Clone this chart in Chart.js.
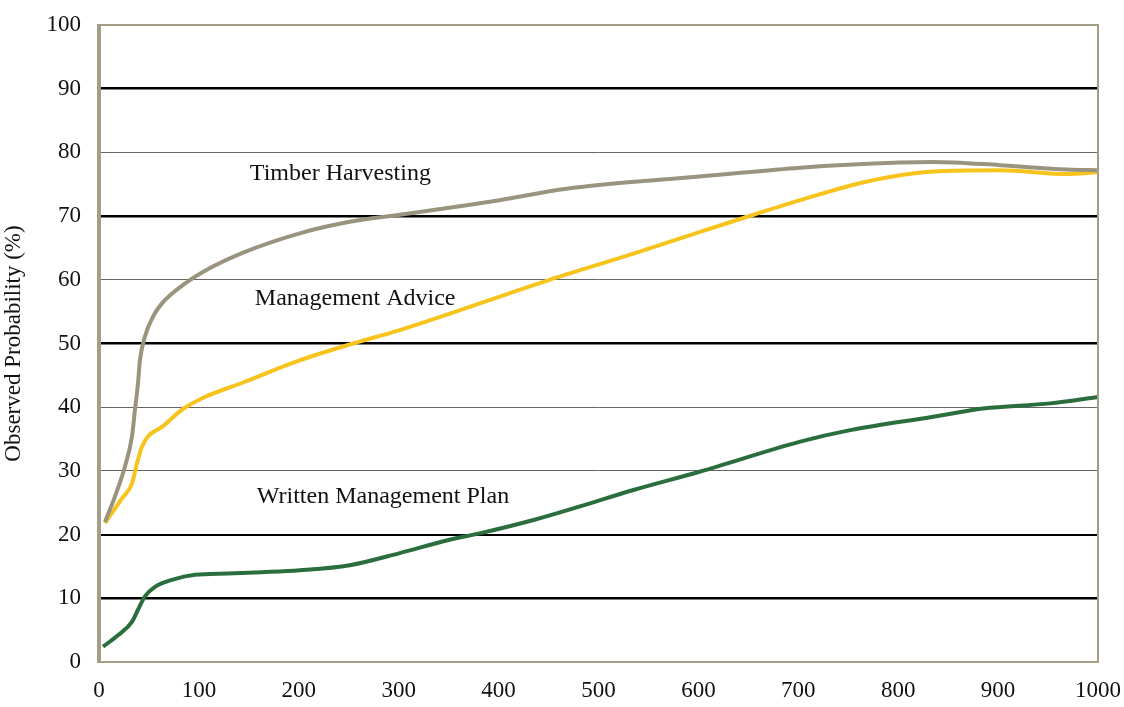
<!DOCTYPE html>
<html>
<head>
<meta charset="utf-8">
<script src="https://cdn.jsdelivr.net/npm/chart.js@4/dist/chart.umd.min.js"></script>
<style>
  html, body { margin: 0; padding: 0; background: #fff; }
  canvas { display: block; }
</style>
</head>
<body>
<canvas id="chLines" width="1124" height="707"></canvas>
<script>
// values (x = 0..1000, y = %)
var timberX = [6, 16, 26, 33, 36, 39, 41, 46, 54, 63, 86, 113, 143, 201, 251, 301, 368, 401, 468, 568, 601, 702, 802, 835, 902, 969, 1000];
var timberY = [22.0, 26.0, 30.7, 35.4, 39.6, 43.7, 47.4, 51.1, 54.2, 56.3, 59.4, 62.0, 64.2, 67.3, 69.1, 70.2, 71.7, 72.5, 74.3, 75.8, 76.2, 77.6, 78.4, 78.5, 78.0, 77.3, 77.2];

var adviceX = [6, 23, 33, 38, 43, 49, 63, 83, 106, 143, 200, 250, 301, 451, 535, 601, 635, 702, 768, 835, 902, 969, 1000];
var adviceY = [21.8, 25.7, 28.0, 31.2, 33.8, 35.4, 36.9, 39.6, 41.6, 43.8, 47.3, 49.8, 52.1, 60.0, 64.1, 67.5, 69.2, 72.5, 75.4, 77.0, 77.2, 76.6, 76.9];

var planX = [4, 19, 33, 39, 46, 56, 73, 96, 129, 163, 201, 251, 301, 351, 381, 435, 485, 535, 602, 702, 752, 835, 885, 952, 1000];
var planY = [2.4, 4.2, 6.3, 8.2, 10.3, 11.8, 12.9, 13.7, 13.9, 14.1, 14.4, 15.2, 17.1, 19.2, 20.2, 22.3, 24.6, 27.0, 29.9, 34.6, 36.4, 38.5, 39.8, 40.6, 41.6];

var seriesNames = ['Timber Harvesting', 'Management Advice', 'Written Management Plan'];
// where the in-plot labels sit (data coords)
var labelSpots = [[151, 76.6], [156, 57.1], [158, 25.9]];

var colors = ['#9a937e', '#f6c41c', '#2b6e3d'];
var serif = '"Liberation Serif", "Times New Roman", serif';

function pts(xs, ys) {
  return xs.map(function (x, i) { return {x: x, y: ys[i]}; });
}

// thick / thin gridlines like the original
var thickLines = [10, 50, 70, 90];

var frame = {
  id: 'frame',
  afterDatasetsDraw: function (chart) {
    var c = chart.ctx, a = chart.chartArea;
    c.save();
    c.strokeStyle = '#a49e88';
    c.lineWidth = 2;
    c.strokeRect(a.left, a.top, a.right - a.left, a.bottom - a.top);
    c.lineWidth = 4;
    c.beginPath(); c.moveTo(a.left, a.top - 1); c.lineTo(a.left, a.bottom + 1); c.stroke();
    // curve labels
    c.fillStyle = '#111';
    c.font = '24px ' + serif;
    c.textBaseline = 'middle';
    c.textAlign = 'left';
    var xs = chart.scales.x, ys = chart.scales.y;
    labelSpots.forEach(function (p, i) {
      c.fillText(seriesNames[i], xs.getPixelForValue(p[0]), ys.getPixelForValue(p[1]));
    });
    c.restore();
  }
};

var chLines = document.getElementById('chLines');
if (chLines) {
  new Chart(chLines, {
    type: 'line',
    data: {
      datasets: [
        {label: seriesNames[0], data: pts(timberX, timberY), borderColor: colors[0]},
        {label: seriesNames[1], data: pts(adviceX, adviceY), borderColor: colors[1]},
        {label: seriesNames[2], data: pts(planX, planY), borderColor: colors[2]}
      ].map(function (d) {
        d.borderWidth = 4;
        d.pointRadius = 0;
        d.fill = false;
        d.cubicInterpolationMode = 'monotone';
        return d;
      })
    },
    options: {
      responsive: false,
      animation: false,
      layout: {padding: 0},
      plugins: {legend: {display: false}, tooltip: {enabled: false}},
      scales: {
        x: {
          type: 'linear', min: 0, max: 1000,
          grid: {display: false, drawTicks: false},
          border: {display: false},
          ticks: {
            stepSize: 100, padding: 15, maxRotation: 0, autoSkip: false, color: '#111',
            font: {family: serif, size: 23},
            callback: function (v) { return String(v); }
          },
          afterFit: function (s) { s.height = 45; s.paddingRight = 26; s.paddingLeft = 0; }
        },
        y: {
          min: 0, max: 100,
          grid: {
            drawTicks: false,
            color: function (ctx) {
              var v = ctx.tick.value;
              if (v === 0 || v === 100) return 'rgba(0,0,0,0)';
              return thickLines.indexOf(v) >= 0 || v === 20 ? '#000' : '#666';
            },
            lineWidth: function (ctx) {
              var v = ctx.tick.value;
              if (thickLines.indexOf(v) >= 0) return 2.5;
              if (v === 20) return 2;
              return 1;
            }
          },
          border: {display: false},
          ticks: {stepSize: 10, padding: 18, autoSkip: false, color: '#111', font: {family: serif, size: 23}},
          title: {display: true, text: 'Observed Probability (%)', color: '#111', font: {family: serif, size: 23}, padding: {top: 0, bottom: 2}},
          afterFit: function (s) { s.width = 99; s.paddingTop = 25; s.paddingBottom = 0; }
        }
      }
    },
    plugins: [frame]
  });
}
</script>
</body>
</html>
